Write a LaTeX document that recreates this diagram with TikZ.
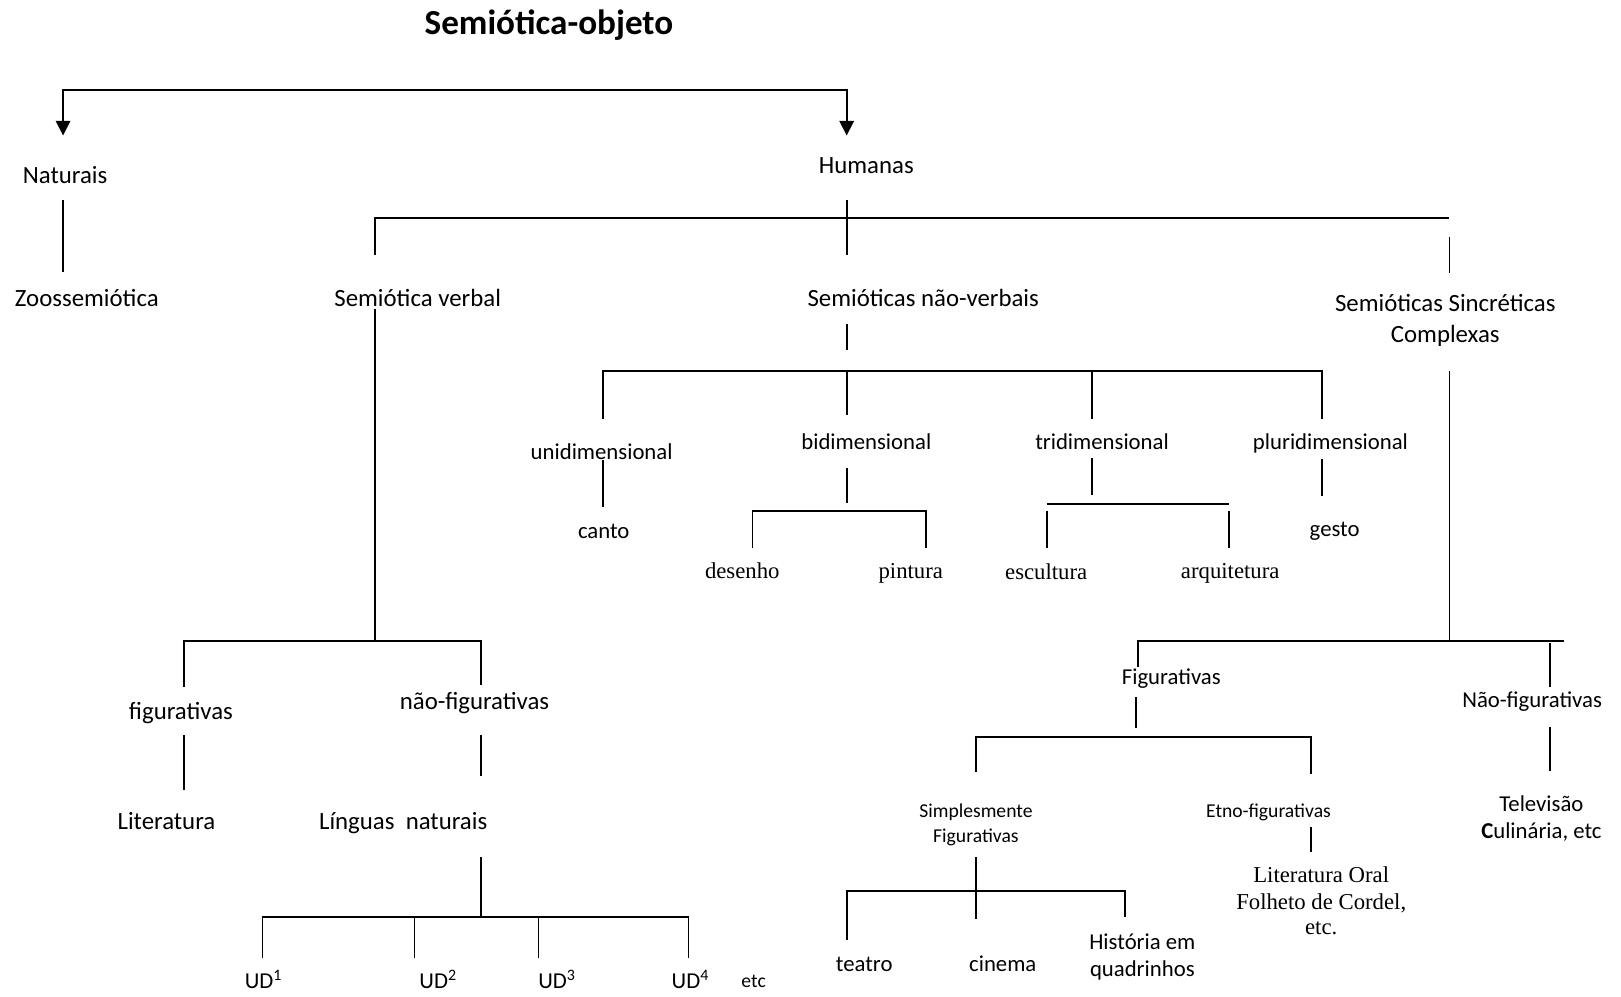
\documentclass[tikz,border=0pt]{standalone}
\usepackage{fontspec}
\setmainfont{Carlito}
\newfontfamily\timesfont{Liberation Serif}
\usetikzlibrary{arrows.meta}
\begin{document}
\begin{tikzpicture}[x=0.5pt,y=-0.5pt,
  link/.style={line width=0.8pt},
  twoheads/.style={line width=0.8pt,{Triangle[length=7pt,width=7pt]}-{Triangle[length=7pt,width=7pt]}},
  tA/.style={anchor=base,inner sep=0pt,yshift=-0.6pt,font=\fontsize{12}{14}\selectfont},
  tB/.style={anchor=base,inner sep=0pt,yshift=-0.6pt,font=\fontsize{11}{13}\selectfont},
  tC/.style={anchor=base,inner sep=0pt,yshift=-0.6pt,font=\fontsize{9.5}{11}\selectfont},
  srf/.style={anchor=base,inner sep=0pt,yshift=-1pt,font=\timesfont\fontsize{11}{13}\selectfont},
  heading/.style={anchor=base,inner sep=0pt,yshift=-0.5pt,font=\bfseries\fontsize{17}{20}\selectfont}]
\useasboundingbox (0,0) rectangle (1568,964);

% ---------- labels ----------
\node[heading] (title) at (531,32) {Semiótica-objeto};
\node[tA] (naturais) at (63,176) {Naturais};
\node[tA] (humanas) at (838,167) {Humanas};
\node[tA] (zoo) at (84,295) {Zoossemiótica};
\node[tA] (verbal) at (404,295) {Semiótica verbal};
\node[tA] (naoverbal) at (893,295) {Semióticas não-verbais};
\node[tA] (sincr1) at (1398,300) {Semióticas Sincréticas};
\node[tA] (sincr2) at (1398,330) {Complexas};

\node[tB] (uni) at (582,443) {unidimensional};
\node[tB] (bi) at (838,434) {bidimensional};
\node[tB] (tri) at (1066,434) {tridimensional};
\node[tB] (pluri) at (1287,434) {pluridimensional};
\node[tB] (canto) at (584,520) {canto};
\node[tB] (gesto) at (1291,518) {gesto};
\node[srf] (desenho) at (718,558) {desenho};
\node[srf] (pintura) at (881,558) {pintura};
\node[srf] (escultura) at (1012,559) {escultura};
\node[srf] (arquitetura) at (1190,558) {arquitetura};

\node[tA] (figv) at (175,695) {figurativas};
\node[tA] (nfigv) at (459,685) {não-figurativas};
\node[tA] (literatura) at (161,801) {Literatura};
\node[tA] (linguas) at (390,801) {Línguas\ \ naturais};
\node[tB] (ud1) at (255,955) {UD\textsuperscript{1}};
\node[tB] (ud2) at (424,955) {UD\textsuperscript{2}};
\node[tB] (ud3) at (539,955) {UD\textsuperscript{3}};
\node[tB] (ud4) at (668,955) {UD\textsuperscript{4}};
\node[tC] (udetc) at (729,954) {etc};

\node[tB] (figs) at (1133,661) {Figurativas};
\node[tB] (nfigs) at (1482,683) {Não-figurativas};
\node[tC] (simp1) at (944,790) {Simplesmente};
\node[tC] (simp2) at (944,814) {Figurativas};
\node[tC] (etno) at (1227,790) {Etno-figurativas};
\node[srf] (oral1) at (1278,852) {Literatura Oral};
\node[srf] (oral2) at (1278,878) {Folheto de Cordel,};
\node[srf] (oral3) at (1278,902) {etc.};
\node[tB] (tv1) at (1491,784) {Televisão};
\node[tB] (tv2) at (1491,810) {{\bfseries C}ulinária, etc};
\node[tB] (teatro) at (836,939) {teatro};
\node[tB] (cinema) at (970,939) {cinema};
\node[tB] (hq1) at (1105,917) {História em};
\node[tB] (hq2) at (1105,943) {quadrinhos};

% ---------- junction points ----------
\coordinate (arrN) at (61,131);  \coordinate (brL) at (61,87);
\coordinate (brR) at (819,87);   \coordinate (arrH) at (819,131);
\coordinate (natA) at (61,193);  \coordinate (natB) at (61,263);
\coordinate (humA) at (819,193); \coordinate (humB) at (819,247);
\coordinate (topL) at (363,247); \coordinate (topLc) at (363,211);
\coordinate (topR) at (1402,211);
\coordinate (sinA) at (1402,229); \coordinate (sinB) at (1402,264);

% verbal branch
\coordinate (verA) at (363,299); \coordinate (verB) at (363,620);
\coordinate (fvA) at (178,665);  \coordinate (fvB) at (178,620);
\coordinate (nvB) at (465,620);  \coordinate (nvA) at (465,663);
\coordinate (fvC) at (178,711);  \coordinate (fvD) at (178,764);
\coordinate (nvC) at (465,711);  \coordinate (nvD) at (465,751);
\coordinate (lnA) at (465,829);  \coordinate (lnB) at (465,887);
\coordinate (u1a) at (254,927);  \coordinate (u1b) at (254,887);
\coordinate (u4b) at (666,887);  \coordinate (u4a) at (666,927);
\coordinate (u2b) at (401,887);  \coordinate (u2a) at (401,927);
\coordinate (u3b) at (521,887);  \coordinate (u3a) at (521,927);

% non-verbal branch
\coordinate (nvrA) at (819,313); \coordinate (nvrB) at (819,339);
\coordinate (d1a) at (583,405);  \coordinate (d1b) at (583,359);
\coordinate (d4b) at (1279,359); \coordinate (d4a) at (1279,405);
\coordinate (d2b) at (819,359);  \coordinate (d2a) at (819,401);
\coordinate (d3b) at (1056,359); \coordinate (d3a) at (1056,405);
\coordinate (cA) at (583,445);   \coordinate (cB) at (583,490);
\coordinate (bA) at (819,453);   \coordinate (bB) at (819,487);
\coordinate (deA) at (728,530);  \coordinate (deB) at (728,494);
\coordinate (piB) at (896,494);  \coordinate (piA) at (896,530);
\coordinate (tA1) at (1056,443); \coordinate (tB1) at (1056,479);
\coordinate (esL) at (1013,487.6); \coordinate (esR) at (1189,487.6);
\coordinate (esA) at (1013,494); \coordinate (esB) at (1013,530);
\coordinate (arA) at (1189,494); \coordinate (arB) at (1189,530);
\coordinate (gA) at (1279,444);  \coordinate (gB) at (1279,480);

% syncretic branch
\coordinate (syA) at (1402,359); \coordinate (syB) at (1402,620);
\coordinate (fsA) at (1101,645); \coordinate (fsB) at (1101,620);
\coordinate (syR) at (1513,620);
\coordinate (nsA) at (1499,622); \coordinate (nsB) at (1499,665);
\coordinate (fsC) at (1099,674); \coordinate (fsD) at (1099,704);
\coordinate (smA) at (944,747);  \coordinate (smB) at (944,713);
\coordinate (etB) at (1268,713); \coordinate (etA) at (1268,749);
\coordinate (etC) at (1268,800); \coordinate (etD) at (1268,824);
\coordinate (nsC) at (1499,703); \coordinate (nsD) at (1499,746);
\coordinate (smC) at (944,829);  \coordinate (smD) at (944,889);
\coordinate (teA) at (819,909);  \coordinate (teB) at (819,862);
\coordinate (hqB) at (1088,862); \coordinate (hqA) at (1088,887);

% ---------- connectors ----------
\draw[twoheads] (arrN) -- (brL) -- (brR) -- (arrH);
\draw[link] (natA) -- (natB);
\draw[link] (humA) -- (humB);
\draw[link] (topL) -- (topLc) -- (topR);
\draw[link] (sinA) -- (sinB);

\draw[link] (verA) -- (verB);
\draw[link] (fvA) -- (fvB) -- (nvB) -- (nvA);
\draw[link] (fvC) -- (fvD);
\draw[link] (nvC) -- (nvD);
\draw[link] (lnA) -- (lnB);
\draw[link] (u1a) -- (u1b) -- (u4b) -- (u4a);
\draw[link] (u2b) -- (u2a);
\draw[link] (u3b) -- (u3a);

\draw[link] (nvrA) -- (nvrB);
\draw[link] (d1a) -- (d1b) -- (d4b) -- (d4a);
\draw[link] (d2b) -- (d2a);
\draw[link] (d3b) -- (d3a);
\draw[link] (cA) -- (cB);
\draw[link] (bA) -- (bB);
\draw[link] (deA) -- (deB) -- (piB) -- (piA);
\draw[link] (tA1) -- (tB1);
\draw[link] (esL) -- (esR);
\draw[link] (esA) -- (esB);
\draw[link] (arA) -- (arB);
\draw[link] (gA) -- (gB);

\draw[link] (syA) -- (syB);
\draw[link] (fsA) -- (fsB) -- (syR);
\draw[link] (nsA) -- (nsB);
\draw[link] (fsC) -- (fsD);
\draw[link] (smA) -- (smB) -- (etB) -- (etA);
\draw[link] (etC) -- (etD);
\draw[link] (nsC) -- (nsD);
\draw[link] (smC) -- (smD);
\draw[link] (teA) -- (teB) -- (hqB) -- (hqA);
\end{tikzpicture}
\end{document}
